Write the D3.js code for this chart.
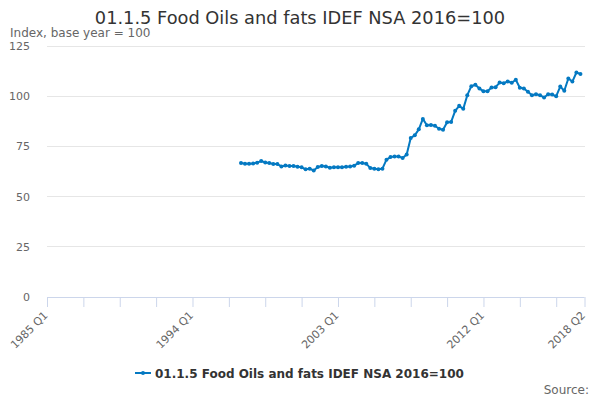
<!DOCTYPE html>
<html lang="en">
<head>
    <meta charset="UTF-8">
    <title>01.1.5 Food Oils and fats</title>
    <script src="https://d3js.org/d3.v7.min.js"></script>
    <style>
        body { margin: 0; background: #fff; }
        svg { font-family: "DejaVu Sans", sans-serif; }
    </style>
</head>
<body>
<svg id="chart" width="600" height="400"></svg>

<script>
    const TITLE = '01.1.5 Food Oils and fats IDEF NSA 2016=100';
    const SERIES_NAME = '01.1.5 Food Oils and fats IDEF NSA 2016=100';
    const LINE_COLOR = '#0479c2';

    // quarters shown on the axis
    const years = d3.range(1985, 2019);
    const quarters = ['Q1', 'Q2', 'Q3', 'Q4'];
    const lastPeriod = '2018 Q2';
    const tickLabels = ['1985 Q1', '1994 Q1', '2003 Q1', '2012 Q1', '2018 Q2'];
    const yTicks = [0, 25, 50, 75, 100, 125];

    // series starts at 1997 Q1
    const firstPeriod = '1997 Q1';
    const values = [
        66.7, 66.4, 66.4, 66.5, 66.9, 67.7, 67.0, 66.7, 66.2, 66.2,
        65.0, 65.5, 65.2, 65.2, 64.9, 64.6, 63.6, 63.9, 63.0, 64.7,
        65.2, 65.0, 64.4, 64.6, 64.6, 64.6, 64.9, 65.0, 65.4, 66.7,
        66.7, 66.4, 64.2, 63.9, 63.6, 63.9, 68.4, 69.7, 70.0, 70.0,
        69.2, 71.0, 79.2, 80.5, 83.5, 88.7, 85.5, 85.7, 85.3, 83.8,
        83.3, 87.0, 87.2, 92.7, 95.2, 93.7, 100.5, 105.0, 105.7, 103.8,
        102.5, 102.5, 104.3, 104.5, 106.8, 106.5, 107.3, 106.7, 108.2, 104.2,
        103.8, 102.2, 100.5, 101.0, 100.5, 99.3, 101.0, 100.8, 100.0, 104.8,
        102.7, 108.8, 107.3, 111.8, 111.0
    ];

    let categories = [];
    years.forEach((y) => {
        quarters.forEach((q) => categories.push(`${y} ${q}`));
    });
    categories = categories.slice(0, categories.indexOf(lastPeriod) + 1);

    const start = categories.indexOf(firstPeriod);
    const data = values.map((v, i) => ({period: categories[start + i], value: v}));

    const svg = d3.select('#chart');
    const plotLeft = 47, plotRight = 584.5, plotTop = 46, plotBottom = 297;

    const xScale = d3.scalePoint().domain(categories).range([plotLeft, plotRight]);
    const yScale = d3.scaleLinear().domain([0, 125]).range([plotBottom, plotTop]);

    // title + subtitle
    svg.append('text')
        .attr('x', 300).attr('y', 24)
        .attr('text-anchor', 'middle')
        .style('font-size', '17.8px')
        .style('fill', '#333333')
        .text(TITLE);

    svg.append('text')
        .attr('x', 10).attr('y', 37)
        .style('font-size', '12px')
        .style('fill', '#666666')
        .text('Index, base year = 100');

    // gridlines
    svg.append('g')
        .selectAll('line')
        .data(yTicks.filter(d => d > 0))
        .join('line')
        .attr('x1', plotLeft).attr('x2', plotRight)
        .attr('y1', d => yScale(d)).attr('y2', d => yScale(d))
        .attr('stroke', '#e6e6e6')
        .attr('stroke-width', 1)
        .attr('shape-rendering', 'crispEdges');

    // y axis labels
    const yaxis = d3.axisLeft(yScale).tickValues(yTicks).tickSize(0).tickPadding(0);
    const yG = svg.append('g')
        .attr('transform', `translate(30, 0)`)
        .call(yaxis);
    yG.select('.domain').remove();
    yG.selectAll('text')
        .style('font-size', '11px')
        .style('font-family', '"DejaVu Sans", sans-serif')
        .style('fill', '#666666');

    // x axis
    const tickCats = categories.filter((c, i) => i % 9 === 0 || c === lastPeriod);
    const xaxis = d3.axisBottom(xScale)
        .tickValues(tickCats)
        .tickSize(10)
        .tickFormat(d => tickLabels.includes(d) ? d : '');
    const xG = svg.append('g')
        .attr('transform', `translate(0, ${plotBottom})`)
        .call(xaxis);
    xG.select('.domain').attr('stroke', '#ccd6eb').attr('d', `M${plotLeft},0.5H${plotRight}`);
    xG.selectAll('.tick line').attr('stroke', '#ccd6eb');
    xG.selectAll('text')
        .style('font-size', '11px')
        .style('font-family', '"DejaVu Sans", sans-serif')
        .style('fill', '#666666')
        .attr('text-anchor', 'end')
        .attr('dy', null)
        .attr('y', 0)
        .attr('transform', 'translate(1, 19) rotate(-45)');

    // series line
    svg.append('path')
        .datum(data)
        .attr('fill', 'none')
        .attr('stroke', LINE_COLOR)
        .attr('stroke-width', 2)
        .attr('stroke-linejoin', 'round')
        .attr('d', d3.line()
            .x(d => xScale(d.period))
            .y(d => yScale(d.value)));

    svg.append('g')
        .selectAll('circle')
        .data(data)
        .join('circle')
        .attr('cx', d => xScale(d.period))
        .attr('cy', d => yScale(d.value))
        .attr('r', 2)
        .attr('fill', LINE_COLOR);

    // legend
    const legend = svg.append('g').attr('transform', 'translate(135, 373)');
    legend.append('line')
        .attr('x1', 0).attr('x2', 16)
        .attr('stroke', LINE_COLOR).attr('stroke-width', 2);
    legend.append('circle').attr('cx', 8).attr('r', 2).attr('fill', LINE_COLOR);
    legend.append('text')
        .attr('x', 20).attr('y', 4.5)
        .style('font-size', '12px')
        .style('font-weight', 'bold')
        .style('fill', '#333333')
        .text(SERIES_NAME);

    svg.append('text')
        .attr('x', 589).attr('y', 394)
        .attr('text-anchor', 'end')
        .style('font-size', '12px')
        .style('fill', '#666666')
        .text('Source:');
</script>
</body>
</html>
